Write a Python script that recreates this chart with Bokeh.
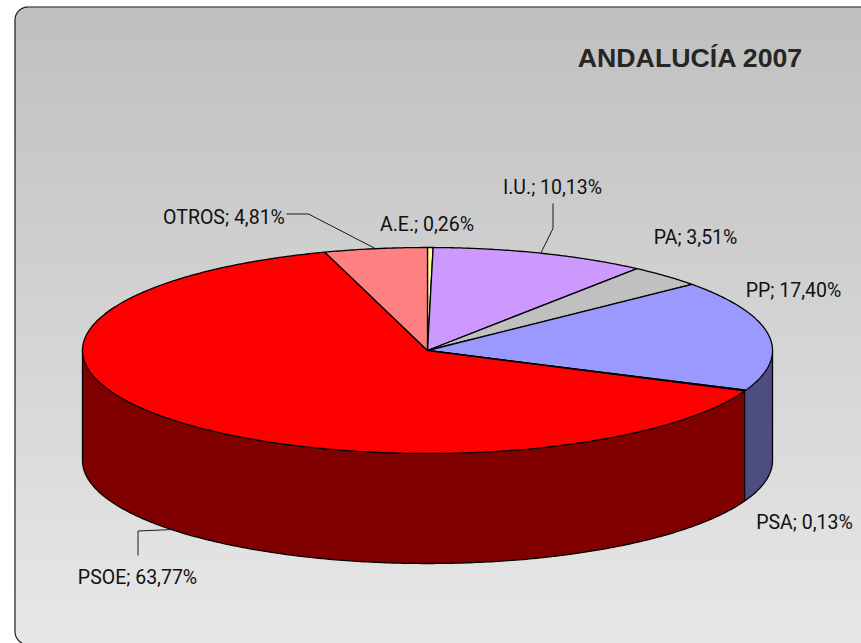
import numpy as np
from bokeh.plotting import figure
from bokeh.models import Range1d, ColumnDataSource
from bokeh.core.properties import value
from bokeh.embed import file_html
from bokeh.resources import INLINE

# --- data, clockwise from twelve o'clock ---
categories = ["A.E.", "I.U.", "PA", "PP", "PSA", "PSOE", "OTROS"]
shares = [0.26, 10.13, 3.51, 17.40, 0.13, 63.77, 4.81]
tick_texts = ["A.E.; 0,26%", "I.U.; 10,13%", "PA; 3,51%", "PP; 17,40%",
              "PSA; 0,13%", "PSOE; 63,77%", "OTROS; 4,81%"]
top_colors = ["#FFFF99", "#CC99FF", "#C0C0C0", "#9999FF", "#333399", "#FF0000", "#FF8080"]
side_colors = ["#80804D", "#664D80", "#606060", "#4D4D80", "#4D4D80", "#800000", "#804040"]
title = "ANDALUCÍA 2007"

W, H = 861, 643
CX, CY, RX, RY, DEPTH = 427, 350, 345, 103, 110
FONT = "Roboto"

p = figure(width=W, height=H, output_backend="svg", toolbar_location=None,
           x_range=Range1d(0, W), y_range=Range1d(H, 0),
           min_border=0, outline_line_color=None, margin=(0, 0, 0, 0))
p.axis.visible = False
p.grid.visible = False
p.xaxis.visible = False
p.yaxis.visible = False

# --- rounded gradient panel ---
L, T, R, B, RAD = 14.5, 6.5, 880, 644, 13
ys = np.arange(T, B, 1.0)
def left_at(y):
    dy = np.where(y < T + RAD, T + RAD - y, np.where(y > B - RAD, y - (B - RAD), 0))
    return L + RAD - np.sqrt(np.maximum(RAD**2 - dy**2, 0))
t = (ys - T) / (B - T)
shade = (192 + (232 - 192) * t).astype(int)
cols = ["#%02x%02x%02x" % (s, s, s) for s in shade]
p.quad(left=left_at(ys + 0.5), right=R, top=ys, bottom=ys + 1.4, fill_color=cols,
       line_color=None)
arc = np.linspace(0, np.pi / 2, 20)
bx = [L + RAD - RAD * np.cos(a) for a in arc] + [R]
by = [T + RAD - RAD * np.sin(a) for a in arc] + [T]
p.line(bx, by, line_color="#1a1a1a", line_width=1.2)
bx2 = [L] + [L + RAD - RAD * np.cos(a) for a in arc]
by2 = [T + RAD] + [B - RAD + RAD * np.sin(a) for a in arc]
p.line(bx2, by2, line_color="#1a1a1a", line_width=1.2)

# --- pie geometry from the shares ---
total = sum(shares)
edges = np.cumsum([0] + shares) / total * 2 * np.pi
idx = {c: i for i, c in enumerate(categories)}
def ex(a): return CX + RX * np.sin(a)
def ey(a): return CY - RY * np.cos(a)

# side walls: only the part of the rim that faces the viewer
for i in range(len(shares)):
    a0, a1 = max(edges[i], np.pi / 2), min(edges[i + 1], 3 * np.pi / 2)
    if a1 <= a0:
        continue
    a = np.linspace(a0, a1, 160)
    xs = list(ex(a)) + list(ex(a[::-1]))
    yv = list(ey(a)) + list(ey(a[::-1]) + DEPTH)
    p.patch(xs, yv, fill_color=side_colors[i], line_color=None)
rim = np.linspace(np.pi / 2, 3 * np.pi / 2, 300)
p.line(list(ex(rim)), list(ey(rim) + DEPTH), line_color="black", line_width=1.3)
for a in (np.pi / 2, 3 * np.pi / 2, edges[idx["PSOE"]]):
    p.line([ex(a), ex(a)], [ey(a), ey(a) + DEPTH], line_color="black", line_width=1.3)

# top faces
for i in range(len(shares)):
    a = np.linspace(edges[i], edges[i + 1], max(3, int(shares[i] * 8)))
    xs = [CX] + list(ex(a))
    yv = [CY] + list(ey(a))
    p.patch(xs, yv, fill_color=top_colors[i], line_color="black", line_width=1.3)

# --- leader lines, from the middle of the slice to the label ---
mid = (edges[:-1] + edges[1:]) / 2
a = mid[idx["OTROS"]]
p.line([286, 308, ex(a)], [213.5, 213.5, ey(a)], line_color="#1a1a1a", line_width=1)
a = mid[idx["I.U."]]
p.line([552.5, 552.5, ex(a)], [203, 228, ey(a)], line_color="#1a1a1a", line_width=1)
a = mid[idx["PSOE"]]
p.line([137.5, 137.5, ex(a)], [555, 530.5, ey(a) + DEPTH], line_color="#1a1a1a", line_width=1)

# --- labels ---
label_x = [426.5, 552, 695, 793, 804, 137, 223.5]
label_y = [224, 187, 237, 290, 522, 577, 217]
src = ColumnDataSource(dict(x=label_x, y=label_y, t=tick_texts))
p.text("x", "y", text="t", source=src, text_align="center", text_baseline="middle",
       text_font=value(FONT), text_font_size="19.5px", text_color="#111111")
p.text([690], [57.5], text=[title], text_align="center", text_baseline="middle",
       text_font=value("Liberation Sans"), text_font_style="bold",
       text_font_size="26.7px", text_color="#262626")

open("out.html", "w").write(file_html(p, INLINE))
